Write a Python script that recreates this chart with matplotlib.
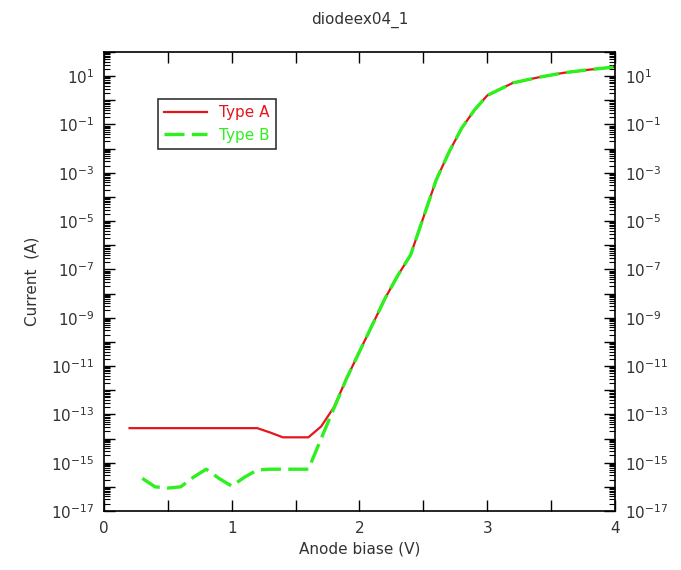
import numpy as np
import matplotlib
matplotlib.use("Agg")
import matplotlib.pyplot as plt
from matplotlib.ticker import MultipleLocator, LogLocator, FuncFormatter, NullFormatter

# === data (current as log10 of amps) ===
x_a = [0.2, 0.4, 0.6, 0.8, 1.0, 1.2, 1.3, 1.4, 1.5, 1.6, 1.7, 1.8, 1.9, 2.0, 2.1, 2.2,
       2.3, 2.4, 2.5, 2.6, 2.7, 2.8, 2.9, 3.0, 3.2, 3.4, 3.6, 3.8, 4.0]
log_a = [-13.57, -13.57, -13.57, -13.57, -13.57, -13.57, -13.75, -13.95, -13.95, -13.95,
         -13.5, -12.7, -11.5, -10.4, -9.3, -8.2, -7.25, -6.4, -4.85, -3.3, -2.15, -1.15,
         -0.4, 0.2, 0.72, 0.95, 1.14, 1.27, 1.38]

x_b = [0.3, 0.4, 0.5, 0.6, 0.7, 0.8, 0.9, 1.0, 1.1, 1.2, 1.3, 1.4, 1.5, 1.6, 1.7, 1.8,
       1.9, 2.0, 2.1, 2.2, 2.3, 2.4, 2.5, 2.6, 2.7, 2.8, 2.9, 3.0, 3.2, 3.4, 3.6, 3.8, 4.0]
log_b = [-15.65, -16.0, -16.05, -16.0, -15.6, -15.27, -15.65, -15.97, -15.6, -15.3, -15.27,
         -15.27, -15.27, -15.27, -14.0, -12.75, -11.5, -10.4, -9.3, -8.2, -7.25, -6.4,
         -4.85, -3.3, -2.15, -1.15, -0.4, 0.2, 0.72, 0.95, 1.14, 1.27, 1.38]

labels = ["Type A", "Type B"]
red = "#e3161b"
green = "#2ef01e"

fig = plt.figure(figsize=(6.81, 5.70), dpi=100)
ax = fig.add_axes([104 / 681, 1 - 511 / 570, 511 / 681, 459 / 570])

ax.plot(x_a, 10.0 ** np.array(log_a), color=red, lw=1.6, label=labels[0])
ax.plot(x_b, 10.0 ** np.array(log_b), color=green, lw=2.4,
        linestyle=(0, (6, 2.2)), label=labels[1])

ax.set_yscale("log")
ax.set_xlim(0, 4)
ax.set_ylim(1e-17, 1e2)

# x ticks every 0.5, labels only on whole volts
ax.xaxis.set_major_locator(MultipleLocator(0.5))
ax.xaxis.set_major_formatter(FuncFormatter(
    lambda v, p: "%d" % round(v) if abs(v - round(v)) < 1e-6 else ""))

# y ticks every decade, labels on odd exponents
ax.yaxis.set_major_locator(LogLocator(base=10, numticks=40))
ax.yaxis.set_minor_locator(LogLocator(base=10, subs=np.arange(2, 10), numticks=40))
ax.yaxis.set_minor_formatter(NullFormatter())

def ylab(v, p):
    e = int(round(np.log10(v)))
    return r"$10^{%d}$" % e if e % 2 else ""

ax.yaxis.set_major_formatter(FuncFormatter(ylab))

ax.tick_params(which="both", direction="in", top=True, right=True,
               labelright=True, labelsize=11, colors="black", labelcolor="#333333")
ax.tick_params(which="major", length=8, width=1.0, pad=7)
ax.tick_params(axis="y", which="minor", length=4, width=0.8)
for s in ax.spines.values():
    s.set_linewidth(1.2)

ax.set_title("diodeex04_1", fontsize=11, color="#333333", pad=20)
ax.set_xlabel("Anode biase (V)", fontsize=11, color="#333333", labelpad=4)
ax.set_ylabel("Current  (A)", fontsize=11, color="#333333", labelpad=8)

leg = ax.legend(loc="upper left", bbox_to_anchor=(0.105, 0.898), borderaxespad=0,
                fontsize=11, handlelength=2.8, fancybox=False, framealpha=1,
                edgecolor="#333333", labelcolor="linecolor")
leg.get_frame().set_linewidth(1.2)

plt.savefig("out.png", dpi=100)
